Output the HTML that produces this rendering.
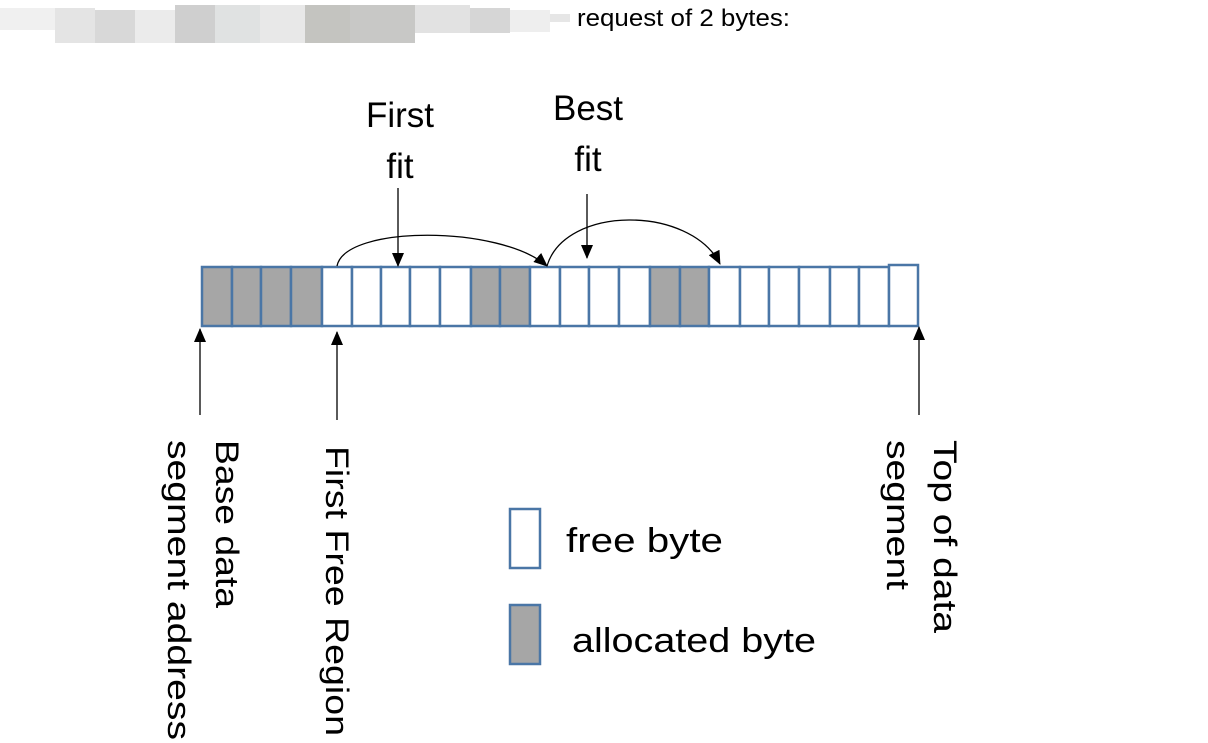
<!DOCTYPE html>
<html><head><style>html,body{margin:0;padding:0;background:#fff;}svg{display:block}</style></head>
<body>
<svg width="1208" height="743" xmlns="http://www.w3.org/2000/svg" font-family="Liberation Sans, sans-serif">
<defs>
<marker id="b" markerWidth="14" markerHeight="12" refX="13" refY="6" orient="auto" markerUnits="userSpaceOnUse"><path d="M0,0 L14,6 L0,12 z" fill="#000"/></marker></defs>
<g>
<rect x="0" y="8" width="55" height="22" fill="#f0f0f0"/>
<rect x="55" y="8" width="40" height="35" fill="#e4e4e4"/>
<rect x="95" y="10" width="40" height="33" fill="#d8d8d8"/>
<rect x="135" y="10" width="40" height="33" fill="#ebebeb"/>
<rect x="175" y="5" width="40" height="38" fill="#cfcfcf"/>
<rect x="215" y="5" width="45" height="38" fill="#e0e2e2"/>
<rect x="260" y="5" width="45" height="38" fill="#e8e8e8"/>
<rect x="305" y="5" width="45" height="38" fill="#c4c4c0"/>
<rect x="350" y="5" width="65" height="38" fill="#c8c8c6"/>
<rect x="415" y="5" width="55" height="28" fill="#e2e2e2"/>
<rect x="470" y="8" width="40" height="25" fill="#d6d6d6"/>
<rect x="510" y="10" width="40" height="22" fill="#eeeeee"/>
<rect x="550" y="14" width="20" height="8" fill="#e6e6e6"/>
</g>
<text x="577" y="26" font-size="24" fill="#000" textLength="213" lengthAdjust="spacingAndGlyphs">request of 2 bytes:</text>
<g font-size="35" fill="#000" text-anchor="middle">
<text x="400" y="127">First</text><text x="400" y="178">fit</text>
<text x="588" y="120">Best</text><text x="588" y="171">fit</text>
</g>
<g stroke="#4a76a6" stroke-width="2.5">
<rect x="202" y="267" width="30" height="59" fill="#a6a6a6"/>
<rect x="232" y="267" width="29" height="59" fill="#a6a6a6"/>
<rect x="261" y="267" width="30" height="59" fill="#a6a6a6"/>
<rect x="291" y="267" width="31" height="59" fill="#a6a6a6"/>
<rect x="322" y="267" width="30" height="59" fill="#fff"/>
<rect x="352" y="267" width="29" height="59" fill="#fff"/>
<rect x="381" y="267" width="29" height="59" fill="#fff"/>
<rect x="410" y="267" width="30" height="59" fill="#fff"/>
<rect x="440" y="267" width="31" height="59" fill="#fff"/>
<rect x="471" y="267" width="29" height="59" fill="#a6a6a6"/>
<rect x="500" y="267" width="30" height="59" fill="#a6a6a6"/>
<rect x="530" y="267" width="30" height="59" fill="#fff"/>
<rect x="560" y="267" width="29" height="59" fill="#fff"/>
<rect x="589" y="267" width="30" height="59" fill="#fff"/>
<rect x="619" y="267" width="31" height="59" fill="#fff"/>
<rect x="650" y="267" width="30" height="59" fill="#a6a6a6"/>
<rect x="680" y="267" width="29" height="59" fill="#a6a6a6"/>
<rect x="709" y="267" width="31" height="59" fill="#fff"/>
<rect x="740" y="267" width="29" height="59" fill="#fff"/>
<rect x="769" y="267" width="30" height="59" fill="#fff"/>
<rect x="799" y="267" width="31" height="59" fill="#fff"/>
<rect x="830" y="267" width="29" height="59" fill="#fff"/>
<rect x="859" y="267" width="30" height="59" fill="#fff"/>
<rect x="889" y="265" width="29" height="61" fill="#fff"/>
</g>
<g stroke="#000" stroke-width="1.3" fill="none">
<line x1="398" y1="188" x2="398" y2="266" marker-end="url(#b)"/>
<line x1="587" y1="194" x2="587" y2="258" marker-end="url(#b)"/>
<path d="M337,266 C345,225 500,225 547,266" marker-end="url(#b)"/>
<path d="M547,266 C565,205 690,205 720,264" marker-end="url(#b)"/>
<line x1="200" y1="415" x2="200" y2="329" marker-end="url(#b)"/>
<line x1="337" y1="420" x2="337" y2="332" marker-end="url(#b)"/>
<line x1="919" y1="415" x2="919" y2="327" marker-end="url(#b)"/>
</g>
<g font-size="32" fill="#000">
<text transform="translate(168,440) rotate(90)" textLength="300" lengthAdjust="spacingAndGlyphs">segment address</text>
<text transform="translate(216,440) rotate(90)" textLength="168" lengthAdjust="spacingAndGlyphs">Base data</text>
<text transform="translate(326,446) rotate(90)" textLength="290" lengthAdjust="spacingAndGlyphs">First Free Region</text>
<text transform="translate(887,440) rotate(90)" textLength="150" lengthAdjust="spacingAndGlyphs">segment</text>
<text transform="translate(934,440) rotate(90)" textLength="193" lengthAdjust="spacingAndGlyphs">Top of data</text>
</g>
<rect x="510" y="509" width="30" height="59" fill="#fff" stroke="#4a76a6" stroke-width="2.5"/>
<rect x="510" y="605" width="30" height="59" fill="#a6a6a6" stroke="#4a76a6" stroke-width="2.5"/>
<text x="566" y="552" font-size="34" textLength="157" lengthAdjust="spacingAndGlyphs">free byte</text>
<text x="572" y="652" font-size="34" textLength="244" lengthAdjust="spacingAndGlyphs">allocated byte</text>
</svg>
</body></html>
